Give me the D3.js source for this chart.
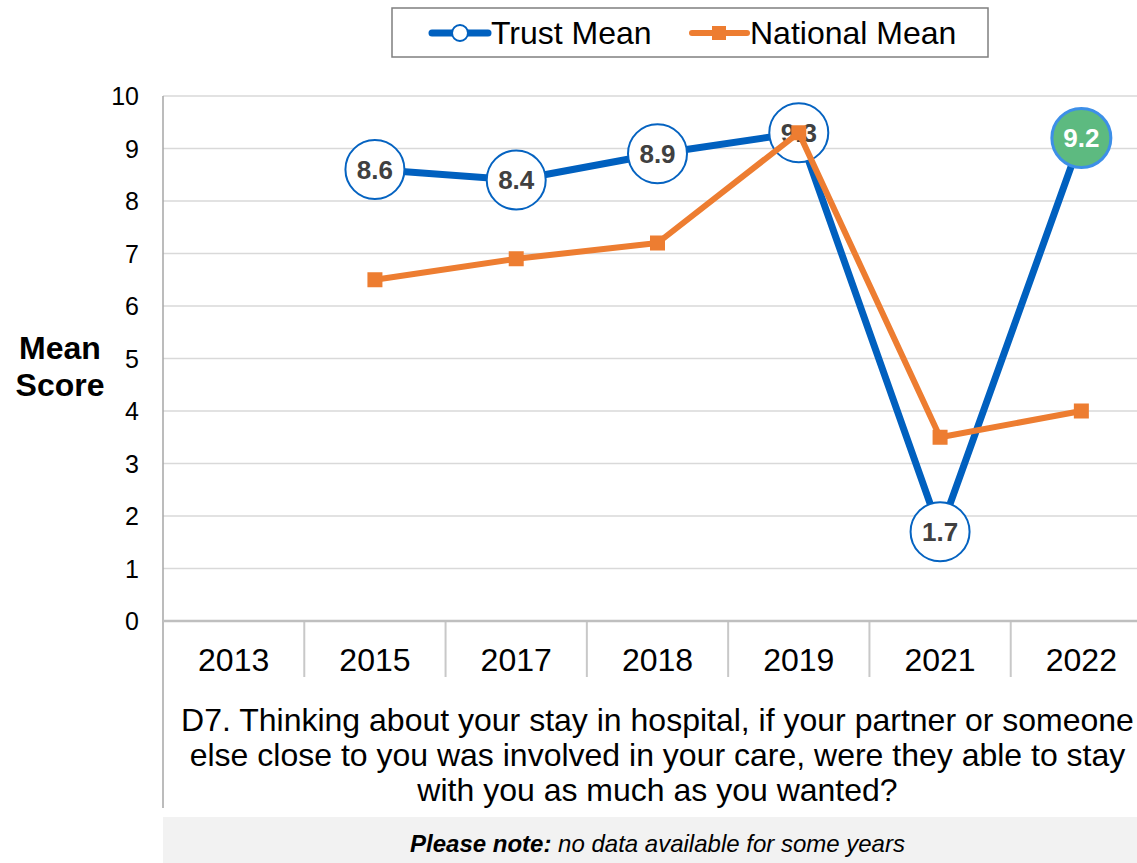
<!DOCTYPE html>
<html><head><meta charset="utf-8">
<script src="https://cdn.jsdelivr.net/npm/d3@7"></script>
<style>body{margin:0;background:#fff}svg{display:block;font-family:"Liberation Sans",Arial,sans-serif}</style>
</head><body><svg id="c" width="1137" height="863"></svg>
<script>
const categories = ["2013","2015","2017","2018","2019","2021","2022"];
const trustMean = [null, 8.6, 8.4, 8.9, 9.3, 1.7, 9.2];
const nationalMean = [null, 6.5, 6.9, 7.2, 9.3, 3.5, 4.0];
const yTicks = [0,1,2,3,4,5,6,7,8,9,10];
const seriesNames = ["Trust Mean","National Mean"];
const questionLines = ["D7. Thinking about your stay in hospital, if your partner or someone",
  "else close to you was involved in your care, were they able to stay",
  "with you as much as you wanted?"];
const highlightIndex = 6;

const svg = d3.select("#c");
const x = d3.scaleBand().domain(categories).range([163, 1152]).padding(0);
const y = d3.scaleLinear().domain([0,10]).range([621, 96]);
const cx = c => x(c) + x.bandwidth()/2;

// gridlines
svg.append("g").selectAll("line").data(yTicks.filter(t=>t>0)).join("line")
  .attr("x1",163).attr("x2",1152).attr("y1",d=>y(d)).attr("y2",d=>y(d))
  .attr("stroke","#d9d9d9").attr("stroke-width",1.5);
// y tick labels
svg.append("g").selectAll("text").data(yTicks).join("text")
  .attr("x",139).attr("y",d=>y(d)).attr("text-anchor","end").attr("dominant-baseline","central")
  .attr("font-size",25).attr("fill","#000").text(d=>d);
// left axis
svg.append("line").attr("x1",163).attr("x2",163).attr("y1",96).attr("y2",808).attr("stroke","#a6a6a6").attr("stroke-width",1.5);
// category separators
svg.append("g").selectAll("line").data(categories.slice(1)).join("line")
  .attr("x1",d=>x(d)).attr("x2",d=>x(d)).attr("y1",621).attr("y2",677)
  .attr("stroke","#c8c8c8").attr("stroke-width",2);
// baseline
svg.append("line").attr("x1",163).attr("x2",1152).attr("y1",y(0)).attr("y2",y(0)).attr("stroke","#bfbfbf").attr("stroke-width",2.5);
// x labels
svg.append("g").selectAll("text").data(categories).join("text")
  .attr("x",d=>cx(d)).attr("y",660).attr("text-anchor","middle").attr("dominant-baseline","central")
  .attr("font-size",32).attr("fill","#000").text(d=>d);
// axis title
svg.append("text").attr("x",60).attr("y",348).attr("text-anchor","middle").attr("dominant-baseline","central")
  .attr("font-size",32).attr("font-weight","bold").text("Mean");
svg.append("text").attr("x",60).attr("y",385).attr("text-anchor","middle").attr("dominant-baseline","central")
  .attr("font-size",32).attr("font-weight","bold").text("Score");

// trust line
const trustData = categories.map((c,i)=>({c, v:trustMean[i], i})).filter(d=>d.v!=null);
const natData = categories.map((c,i)=>({c, v:nationalMean[i], i})).filter(d=>d.v!=null);
const line = d3.line().x(d=>cx(d.c)).y(d=>y(d.v));
svg.append("path").datum(trustData).attr("d",line).attr("fill","none").attr("stroke","#0060bf").attr("stroke-width",7).attr("stroke-linejoin","round");
const tg = svg.append("g").selectAll("g").data(trustData).join("g").attr("transform",d=>`translate(${cx(d.c)},${y(d.v)})`);
tg.append("circle").attr("r",29.5)
  .attr("fill",d=>d.i===highlightIndex?"#5dba80":"#fff")
  .attr("stroke",d=>d.i===highlightIndex?"#3d8fe8":"#0563c1")
  .attr("stroke-width",d=>d.i===highlightIndex?3:2);
tg.append("text").attr("text-anchor","middle").attr("dominant-baseline","central")
  .attr("font-size",26).attr("font-weight","bold")
  .attr("fill",d=>d.i===highlightIndex?"#fff":"#404040").text(d=>d.v.toFixed(1));
// national line
svg.append("path").datum(natData).attr("d",line).attr("fill","none").attr("stroke","#ed7d31").attr("stroke-width",6).attr("stroke-linejoin","round");
svg.append("g").selectAll("rect").data(natData).join("rect")
  .attr("x",d=>cx(d.c)-7.5).attr("y",d=>y(d.v)-7.5).attr("width",15).attr("height",15).attr("fill","#ed7d31");

// legend
const lg = svg.append("g");
lg.append("rect").attr("x",392).attr("y",8).attr("width",596).attr("height",49).attr("fill","#fff").attr("stroke","#7f7f7f").attr("stroke-width",1.5);
lg.append("line").attr("x1",432).attr("x2",488).attr("y1",33).attr("y2",33).attr("stroke","#0060bf").attr("stroke-width",7).attr("stroke-linecap","round");
lg.append("circle").attr("cx",460).attr("cy",33).attr("r",8).attr("fill","#fff").attr("stroke","#0060bf").attr("stroke-width",2);
lg.append("text").attr("x",491).attr("y",33).attr("dominant-baseline","central").attr("font-size",32).text(seriesNames[0]);
lg.append("line").attr("x1",692).attr("x2",747).attr("y1",33).attr("y2",33).attr("stroke","#ed7d31").attr("stroke-width",6).attr("stroke-linecap","round");
lg.append("rect").attr("x",712).attr("y",26).attr("width",14).attr("height",14).attr("fill","#ed7d31");
lg.append("text").attr("x",750).attr("y",33).attr("dominant-baseline","central").attr("font-size",32).text(seriesNames[1]);

// question
svg.append("g").selectAll("text").data(questionLines).join("text")
  .attr("x",657.5).attr("y",(d,i)=>720+i*35).attr("text-anchor","middle").attr("dominant-baseline","central")
  .attr("font-size",32).text(d=>d);
// note
svg.append("rect").attr("x",163).attr("y",817).attr("width",989).attr("height",46).attr("fill","#f2f2f2");
const nt = svg.append("text").attr("x",657.5).attr("y",843).attr("text-anchor","middle").attr("dominant-baseline","central")
  .attr("font-size",24).attr("font-style","italic");
nt.append("tspan").attr("font-weight","bold").text("Please note:");
nt.append("tspan").text(" no data available for some years");
</script></body></html>
